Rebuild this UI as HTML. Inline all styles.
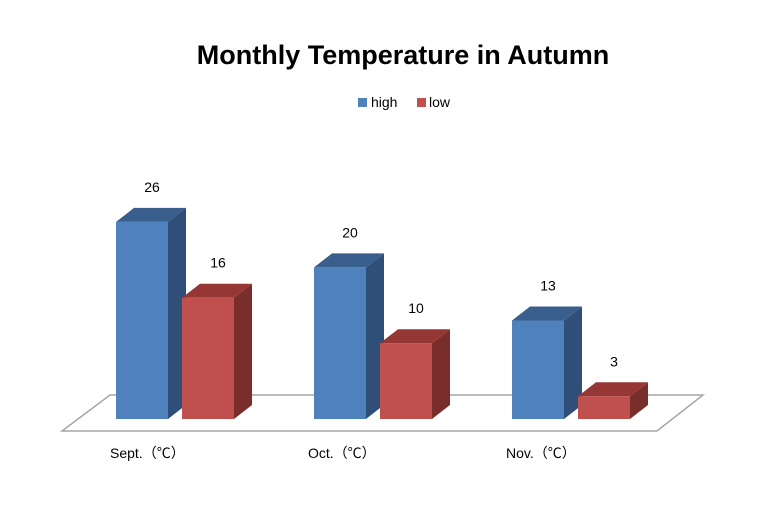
<!DOCTYPE html>
<html><head><meta charset="utf-8"><style>
html,body{margin:0;padding:0;background:#fff;}
svg{display:block;font-family:"Liberation Sans","Noto Sans CJK SC",sans-serif;}
</style></head><body>
<svg id="chart" width="768" height="512" viewBox="0 0 768 512">
<text x="403" y="64" text-anchor="middle" font-size="27" font-weight="bold" fill="#000">Monthly Temperature in Autumn</text>
<g>
<rect x="358" y="98" width="9" height="9" fill="#4f81bd"/>
<text x="371" y="107" font-size="14" fill="#000">high</text>
<rect x="417" y="98" width="9" height="9" fill="#c0504d"/>
<text x="429" y="107" font-size="14" fill="#000">low</text>
</g>
<polygon points="62,431 657,431 703,395 110,395" fill="#fff" stroke="#a6a6a6" stroke-width="1.5"/>
<g id="bars"></g>
</svg>
<script>
const categories=["Sept.（℃）","Oct.（℃）","Nov.（℃）"];
const highValues=[26,20,13];
const lowValues=[16,10,3];
const seriesNames=["high","low"];
const base=419, scale=7.58, groupX0=116, groupStep=198, barW=52, gap=14, dx=18, dy=14;
const y=v=>base-v*scale;
const colors=[{f:"#4f81bd",t:"#3a5f8c",s:"#2f4f78"},{f:"#c0504d",t:"#953735",s:"#7a2e2c"}];
const g=document.getElementById('bars');
const NS="http://www.w3.org/2000/svg";
function mk(tag,attrs){const e=document.createElementNS(NS,tag);for(const k in attrs)e.setAttribute(k,attrs[k]);return e;}
categories.forEach((c,i)=>{
  const gx=groupX0+i*groupStep;
  [highValues[i],lowValues[i]].forEach((v,j)=>{
    const x0=gx+j*(barW+gap), yt=y(v), col=colors[j];
    const side=mk('polygon',{points:`${x0+barW},${yt} ${x0+barW+dx},${yt-dy} ${x0+barW+dx},${base-dy} ${x0+barW},${base}`,fill:col.s});
    
    
    g.appendChild(side);
    const top=mk('polygon',{points:`${x0},${yt} ${x0+dx},${yt-dy} ${x0+barW+dx},${yt-dy} ${x0+barW},${yt}`,fill:col.t});
    
    
    g.appendChild(top);
    const front=mk('rect',{x:x0,y:yt,width:barW,height:base-yt,fill:col.f});
    
    
    g.appendChild(front);
    const t=mk('text',{x:x0+barW/2+dx/2+1,y:yt-dy-16,'text-anchor':'middle','font-size':14,fill:'#000'});
    t.textContent=v;
    
    
    g.appendChild(t);
  });
  const l=mk('text',{x:gx-6,y:458,'font-size':14,fill:'#000'});
  l.textContent=c;
  
  
  g.appendChild(l);
});
</script>
</body></html>
